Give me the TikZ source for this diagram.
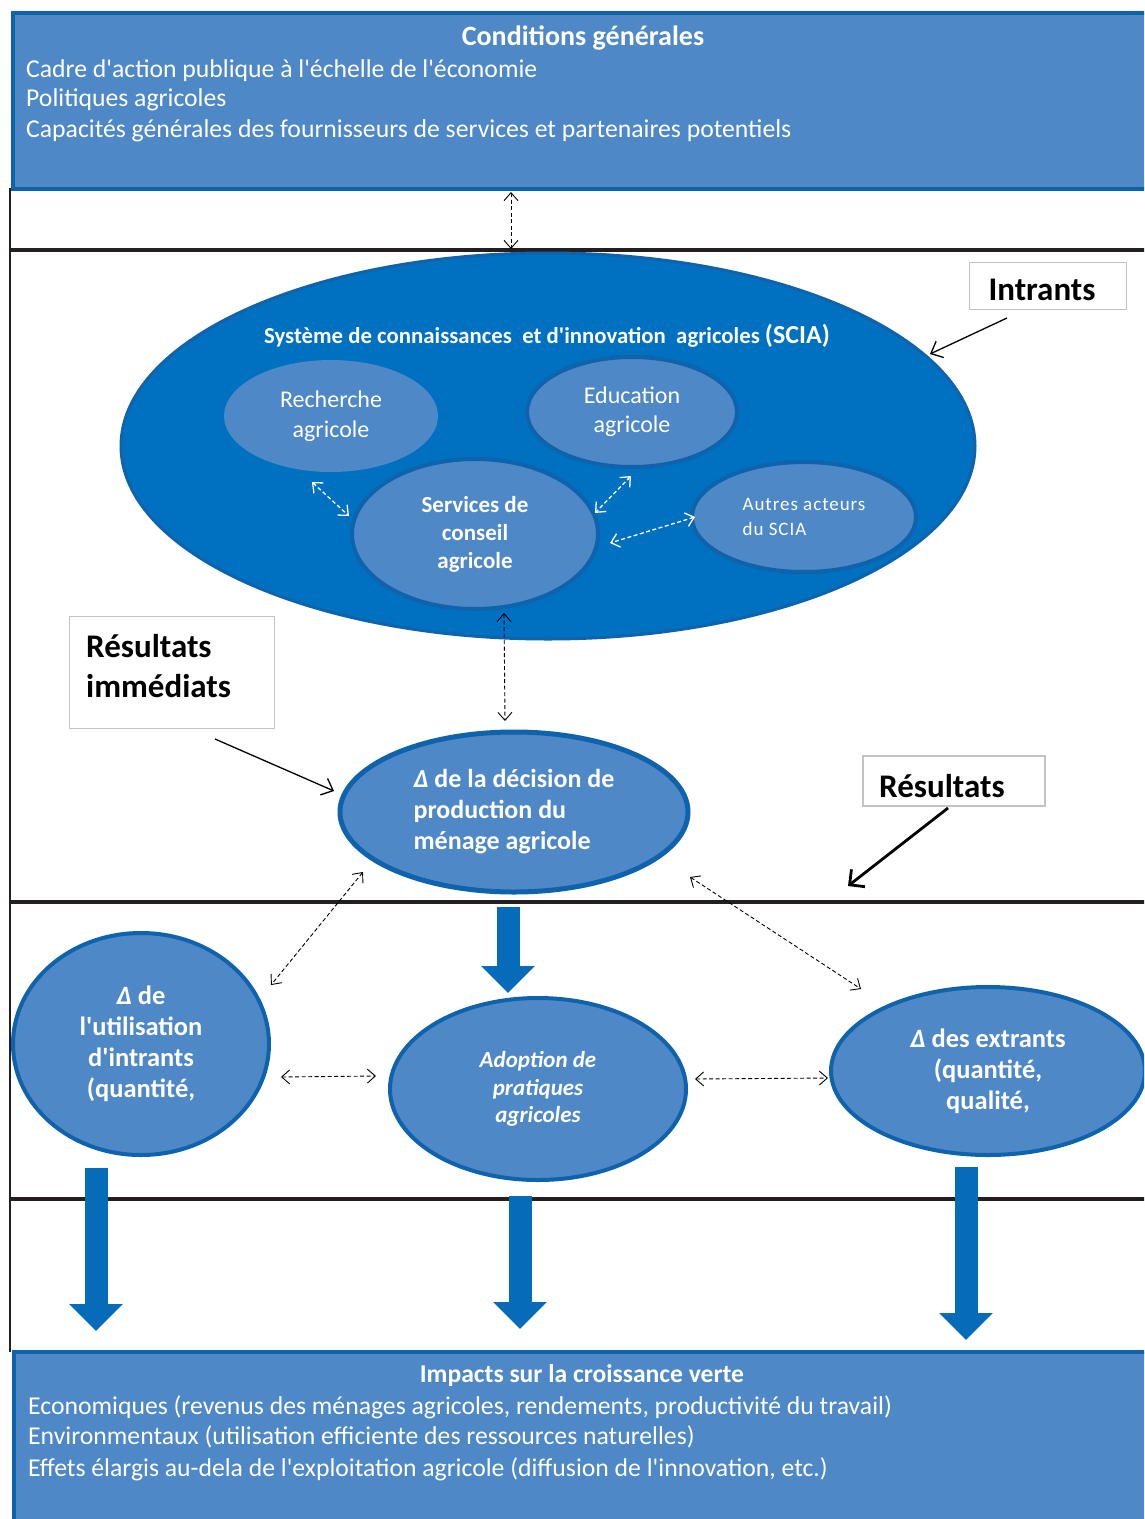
\documentclass[tikz,border=0pt]{standalone}
\usepackage{fontspec}
\setmainfont{Carlito}[Ligatures=TeXOff]
\usetikzlibrary{arrows.meta,shapes.geometric}
\definecolor{lightb}{RGB}{79,136,198}
\definecolor{darkb}{RGB}{0,112,192}
\definecolor{bdr}{RGB}{14,99,172}
\definecolor{arrb}{RGB}{6,108,186}
\definecolor{boxgrey}{RGB}{195,195,195}
\definecolor{linek}{RGB}{35,31,32}
\newcommand{\qa}{{\char39}}
\begin{document}
\begin{tikzpicture}[x=1pt,y=-1pt,
  bandbox/.style={draw=bdr,line width=4pt,fill=lightb},
  ell/.style={ellipse,fill=lightb,draw=bdr,line width=4pt,inner sep=0pt,text=white,align=center},
  lbl/.style={draw=boxgrey,line width=1.3pt,fill=white,inner sep=0pt,text=black},
  sep/.style={draw=linek,line width=3.5pt},
  dasharr/.style={dashed,dash pattern=on 4pt off 2.5pt,line width=0.9pt,{Straight Barb[length=8pt,width=14pt]}-{Straight Barb[length=8pt,width=14pt]}},
  wdasharr/.style={dasharr,draw=white,line width=1.3pt},
  blockarr/.style={draw=arrb,line width=23pt,-{Triangle[length=27pt,width=52pt]}},
  plain/.style={anchor=west,inner sep=0pt,text=white},
]
\useasboundingbox (0,0) rectangle (1144,1519);
\clip (0,0) rectangle (1144,1519);
\fill[white] (0,0) rectangle (1144,1519);

% frame lines
\draw[linek,line width=2pt] (9.5,188) -- (9.5,1352);
\draw[sep] (9,250) -- (1150,250);
\draw[sep] (9,902) -- (1150,902);
\draw[sep] (9,1199) -- (1150,1199);

% top box
\node[bandbox,anchor=north west,minimum width=1150pt,minimum height=176pt,inner sep=0pt] (cond) at (11,11) {};
\node[inner sep=0pt,text=white,font=\fontsize{28}{30}\selectfont\bfseries] (condt) at (583,38) {Conditions générales};
\begin{scope}[every node/.style={plain,font=\fontsize{25.7}{28}\selectfont}]
\node (c1) at (26,71) {Cadre d\qa action publique à l\qa échelle de l\qa économie};
\node (c2) at (26,100) {Politiques agricoles};
\node (c3) at (26,131) {Capacités générales des fournisseurs de services et partenaires potentiels};
\end{scope}

% SCIA
\node[ellipse,fill=darkb,draw=bdr,line width=3pt,minimum width=854pt,minimum height=386pt,inner sep=0pt] (scia) at (548,446) {};
\node[inner sep=0pt,text=white,font=\fontsize{22.8}{25}\selectfont\bfseries] (sciat) at (547,336) {Système de connaissances\ \ et d\qa innovation\ \ agricoles {\fontsize{26}{27}\selectfont(SCIA)}};
\node[ell,draw=none,minimum width=214pt,minimum height=112pt,font=\fontsize{24}{30}\selectfont] (rech) at (331,416) {Recherche\\agricole};
\node[ell,minimum width=210pt,minimum height=110pt,font=\fontsize{24}{29}\selectfont] (educ) at (632,412) {Education\\agricole};
\node[ell,minimum width=246pt,minimum height=150pt,font=\fontsize{23}{28}\selectfont\bfseries] (serv) at (475,534) {Services de\\conseil\\agricole};
\node[ell,minimum width=224pt,minimum height=110pt,align=left,font=\fontsize{19}{25}\selectfont\addfontfeature{LetterSpace=5}] (autr) at (804,517) {Autres acteurs\\du SCIA};

\coordinate (wa1) at (312,482); \coordinate (wa2) at (349,516);
\coordinate (wb1) at (631,476); \coordinate (wb2) at (595,513);
\coordinate (wc1) at (695,517); \coordinate (wc2) at (610,543);
\draw[wdasharr] (wa1) -- (wa2);
\draw[wdasharr] (wb1) -- (wb2);
\draw[wdasharr] (wc1) -- (wc2);

% top connector
\coordinate (ta) at (511,192); \coordinate (tb) at (511,249);
\draw[dasharr] (ta) -- (tb);

% Intrants
\node[lbl,minimum width=157pt,minimum height=47pt] (intr) at (1048,286) {};
\node[inner sep=0pt,font=\fontsize{33}{36}\selectfont\bfseries] (intrt) at (1042,290) {Intrants};
\coordinate (ia) at (1007,318); \coordinate (ib) at (930,354);
\draw[line width=1.3pt,-{Straight Barb[length=10pt,width=18pt]}] (ia) -- (ib);

% Decision
\node[ell,line width=5pt,minimum width=348pt,minimum height=160pt,align=left,font=\fontsize{26}{31}\selectfont\bfseries] (dec) at (514,812) {\textit{Δ} de la décision de\\production du\\ménage agricole};
\coordinate (sa) at (504,613); \coordinate (sb) at (505,721);
\draw[dasharr] (sa) -- (sb);

% Résultats immédiats
\node[lbl,anchor=north west,minimum width=205pt,minimum height=112pt] (rimm) at (69,616) {};
\node[inner sep=0pt,anchor=west,align=left,font=\fontsize{33}{40}\selectfont\bfseries] (rimmt) at (86,666) {Résultats\\immédiats};
\coordinate (ra) at (215,739); \coordinate (rb) at (334,791);
\draw[line width=1.3pt,-{Straight Barb[length=10pt,width=18pt]}] (ra) -- (rb);

% Résultats
\node[lbl,minimum width=182pt,minimum height=50pt] (res) at (954,781) {};
\node[inner sep=0pt,anchor=west,font=\fontsize{33}{36}\selectfont\bfseries] (rest) at (879,786) {Résultats};
\coordinate (rsa) at (948,808); \coordinate (rsb) at (848,886);
\draw[line width=2.8pt,-{Straight Barb[length=11pt,width=22pt]}] (rsa) -- (rsb);

% lower ellipses
\node[ell,minimum width=256pt,minimum height=222pt,font=\fontsize{26.5}{31}\selectfont\bfseries] (inp) at (141,1044) {\textit{Δ} de\\l\qa utilisation\\d\qa intrants\\(quantité,};
\node[ell,minimum width=296pt,minimum height=182pt,font=\fontsize{23}{27.5}\selectfont\bfseries\itshape] (adop) at (538,1089) {Adoption de\\pratiques\\agricoles};
\node[ell,minimum width=314pt,minimum height=168pt,font=\fontsize{26.5}{31}\selectfont\bfseries] (extr) at (988,1071) {\textit{Δ} des extrants\\(quantité,\\qualité,};

\coordinate (da) at (363,872); \coordinate (db) at (271,985);
\coordinate (dc) at (690,877); \coordinate (dd) at (861,989);
\draw[dasharr] (da) -- (db);
\draw[dasharr] (dc) -- (dd);
\coordinate (ha) at (281,1077); \coordinate (hb) at (376,1076);
\coordinate (hc) at (695,1079); \coordinate (hd) at (828,1078);
\draw[dasharr] (ha) -- (hb);
\draw[dasharr] (hc) -- (hd);

% block arrows
\coordinate (ba1) at (508,907); \coordinate (ba2) at (508,993);
\draw[blockarr] (ba1) -- (ba2);
\coordinate (bl1) at (96,1168); \coordinate (bl2) at (96,1331);
\draw[blockarr] (bl1) -- (bl2);
\coordinate (bc1) at (520,1196); \coordinate (bc2) at (520,1329);
\draw[blockarr] (bc1) -- (bc2);
\coordinate (br1) at (966,1167); \coordinate (br2) at (966,1340);
\draw[blockarr] (br1) -- (br2);

% bottom box
\node[bandbox,anchor=north west,minimum width=1150pt,minimum height=180pt,inner sep=0pt] (imp) at (12,1350) {};
\node[inner sep=0pt,text=white,font=\fontsize{25.6}{28}\selectfont\bfseries] (impt) at (582,1376) {Impacts sur la croissance verte};
\begin{scope}[every node/.style={plain,font=\fontsize{25.7}{28}\selectfont}]
\node (i1) at (28,1407) {Economiques (revenus des ménages agricoles, rendements, productivité du travail)};
\node (i2) at (28,1437) {Environmentaux (utilisation efficiente des ressources naturelles)};
\node (i3) at (28,1469) {Effets élargis au-dela de l\qa exploitation agricole (diffusion de l\qa innovation, etc.)};
\end{scope}
\end{tikzpicture}
\end{document}
